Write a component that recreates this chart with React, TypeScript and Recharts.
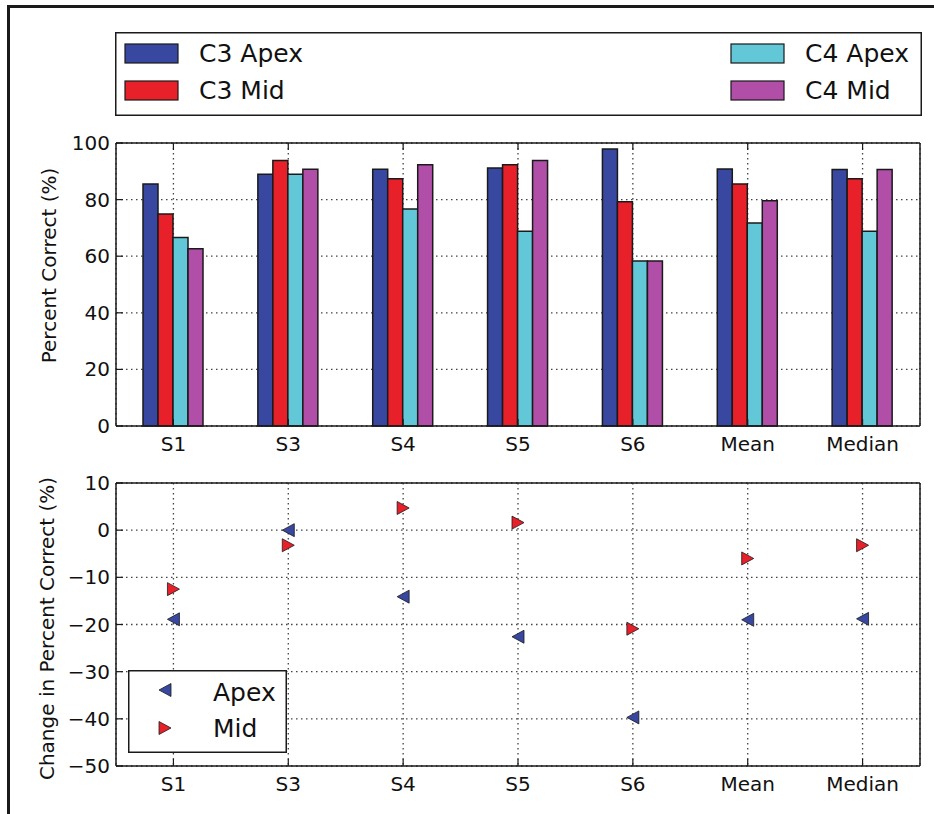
import React from 'react';
import {
  BarChart,
  Bar,
  ScatterChart,
  Scatter,
  XAxis,
  YAxis,
  CartesianGrid,
  Legend,
} from 'recharts';

// subjects plus the summary columns
const categories = ['S1', 'S3', 'S4', 'S5', 'S6', 'Mean', 'Median'];

// percent correct per condition
const c3Apex = [85.5, 89.0, 90.7, 91.2, 97.9, 90.8, 90.6];
const c3Mid = [74.9, 93.8, 87.4, 92.3, 79.2, 85.5, 87.4];
const c4Apex = [66.6, 89.0, 76.7, 68.8, 58.3, 71.7, 68.8];
const c4Mid = [62.6, 90.7, 92.3, 93.8, 58.3, 79.6, 90.6];

// change from C3 to C4
const apexChange = [-18.9, 0.0, -14.1, -22.6, -39.7, -19.0, -18.8];
const midChange = [-12.5, -3.2, 4.7, 1.6, -20.9, -6.0, -3.2];

const percentTicks = [0, 20, 40, 60, 80, 100];
const changeTicks = [-50, -40, -30, -20, -10, 0, 10];

const FONT = '"DejaVu Sans", sans-serif';
const TICK_LEN = 7;
const INK = '#1a1a1a';
const GRID_DASH = '1.5 3.5';

const BLUE = '#3848a0';
const RED = '#e8202a';
const CYAN = '#62c8d8';
const MAGENTA = '#b04ea8';

const barSeries = [
  { key: 'c3Apex', name: 'C3 Apex', color: BLUE },
  { key: 'c3Mid', name: 'C3 Mid', color: RED },
  { key: 'c4Apex', name: 'C4 Apex', color: CYAN },
  { key: 'c4Mid', name: 'C4 Mid', color: MAGENTA },
];

const barData = categories.map((name, i) => ({
  name,
  c3Apex: c3Apex[i],
  c3Mid: c3Mid[i],
  c4Apex: c4Apex[i],
  c4Mid: c4Mid[i],
}));

const apexPoints = categories.map((_, i) => ({ idx: i, value: apexChange[i] }));
const midPoints = categories.map((_, i) => ({ idx: i, value: midChange[i] }));
const catIndexTicks = categories.map((_, i) => i);

const fmt = (v: number) => (v < 0 ? '\u2212' + Math.abs(v) : String(v));

const trianglePath = (cx: number, cy: number, dir: 'left' | 'right') => {
  const w = 6;
  const h = 6.5;
  return dir === 'left'
    ? `M${cx - w},${cy} L${cx + w},${cy - h} L${cx + w},${cy + h} Z`
    : `M${cx + w},${cy} L${cx - w},${cy - h} L${cx - w},${cy + h} Z`;
};

const CategoryTick = ({ x, y, payload }: any) => {
  const label = typeof payload.value === 'number' ? categories[payload.value] : payload.value;
  return (
    <g>
      <line x1={x} y1={y} x2={x} y2={y - TICK_LEN} stroke={INK} strokeWidth={1.2} />
      <text x={x} y={y + 25} textAnchor="middle" fontSize={20} fontFamily={FONT} fill="#111">
        {label}
      </text>
    </g>
  );
};

const TopTick = ({ x, y }: any) => (
  <line x1={x} y1={y} x2={x} y2={y + TICK_LEN} stroke={INK} strokeWidth={1.2} />
);

const ValueTick = ({ x, y, payload }: any) => (
  <g>
    <line x1={x} y1={y} x2={x + TICK_LEN} y2={y} stroke={INK} strokeWidth={1.2} />
    <text x={x - 6} y={y} dy={7} textAnchor="end" fontSize={20} fontFamily={FONT} fill="#111">
      {fmt(payload.value)}
    </text>
  </g>
);

const RightTick = ({ x, y }: any) => (
  <line x1={x} y1={y} x2={x - TICK_LEN} y2={y} stroke={INK} strokeWidth={1.2} />
);

const axisTitle = (text: string, cx: number, shift: number) => (props: any) => {
  const vb = props.viewBox || { y: 0, height: 0 };
  const cy = vb.y + vb.height / 2 + shift;
  return (
    <text
      x={cx}
      y={cy}
      transform={`rotate(-90, ${cx}, ${cy})`}
      textAnchor="middle"
      dominantBaseline="central"
      fontSize={20}
      fontFamily={FONT}
      fill="#111"
    >
      {text}
    </text>
  );
};

const BarLegend = () => {
  const rows = [
    { s: barSeries[0], x: 10, y: 12 },
    { s: barSeries[1], x: 10, y: 49 },
    { s: barSeries[2], x: 616, y: 12 },
    { s: barSeries[3], x: 616, y: 49 },
  ];
  return (
    <svg width={807} height={84} style={{ display: 'block' }}>
      <rect x={0.75} y={0.75} width={805.5} height={82.5} fill="#fff" stroke={INK} strokeWidth={1.5} />
      {rows.map(({ s, x, y }) => (
        <g key={s.key}>
          <rect x={x} y={y} width={53} height={19} fill={s.color} stroke={INK} strokeWidth={1.2} />
          <text x={x + 74} y={y + 18} fontSize={25} fontFamily={FONT} fill="#111">
            {s.name}
          </text>
        </g>
      ))}
    </svg>
  );
};

const ChangeLegend = () => (
  <svg width={159} height={83} style={{ display: 'block' }}>
    <rect x={0.75} y={0.75} width={157.5} height={81.5} fill="#fff" stroke={INK} strokeWidth={1.5} />
    <path d={trianglePath(37, 20, 'left')} fill={BLUE} stroke={INK} strokeWidth={0.8} />
    <text x={85} y={31} fontSize={25} fontFamily={FONT} fill="#111">Apex</text>
    <path d={trianglePath(37, 58, 'right')} fill={RED} stroke={INK} strokeWidth={0.8} />
    <text x={85} y={67} fontSize={25} fontFamily={FONT} fill="#111">Mid</text>
  </svg>
);

const marker = (dir: 'left' | 'right', color: string) => (props: any) => (
  <path d={trianglePath(props.cx, props.cy, dir)} fill={color} stroke={INK} strokeWidth={0.8} />
);

export default function App() {
  return (
    <div
      style={{
        position: 'absolute',
        left: 0,
        top: 0,
        width: 934,
        height: 814,
        overflow: 'hidden',
        background: '#fff',
        fontFamily: FONT,
      }}
    >
      <div
        style={{
          position: 'absolute',
          left: 7,
          top: 5,
          width: 927,
          height: 809,
          borderTop: `3px solid ${INK}`,
          borderLeft: `3px solid ${INK}`,
          boxSizing: 'border-box',
        }}
      />

      <div style={{ position: 'absolute', left: 0, top: 0 }}>
        <BarChart
          width={934}
          height={470}
          data={barData}
          margin={{ top: 142, right: 13, bottom: 14, left: 56 }}
          barGap={0}
          barSize={15}
        >
          {barSeries.map((s) => (
            <Bar
              key={s.key}
              dataKey={s.key}
              name={s.name}
              fill={s.color}
              stroke={INK}
              strokeWidth={1.5}
              isAnimationActive={false}
            />
          ))}
          <CartesianGrid strokeDasharray={GRID_DASH} stroke="#444" strokeWidth={1.3} />
          <XAxis
            dataKey="name"
            height={30}
            interval={0}
            tickSize={0}
            tickMargin={0}
            tickLine={false}
            axisLine={{ stroke: INK, strokeWidth: 1.5 }}
            tick={<CategoryTick />}
          />
          <XAxis
            xAxisId="top"
            orientation="top"
            dataKey="name"
            height={1}
            interval={0}
            tickSize={0}
            tickMargin={0}
            tickLine={false}
            axisLine={{ stroke: INK, strokeWidth: 1.5 }}
            tick={<TopTick />}
          />
          <YAxis
            width={60}
            domain={[0, 100]}
            ticks={percentTicks}
            tickSize={0}
            tickMargin={0}
            tickLine={false}
            axisLine={{ stroke: INK, strokeWidth: 1.5 }}
            tick={<ValueTick />}
            label={axisTitle('Percent Correct (%)', 49, -19)}
          />
          <YAxis
            yAxisId="right"
            orientation="right"
            width={1}
            domain={[0, 100]}
            ticks={percentTicks}
            tickSize={0}
            tickMargin={0}
            tickLine={false}
            axisLine={{ stroke: INK, strokeWidth: 1.5 }}
            tick={<RightTick />}
          />
          <Legend
            layout="horizontal"
            verticalAlign="middle"
            align="center"
            content={<BarLegend />}
            wrapperStyle={{ left: 115, top: 32, width: 807, height: 84 }}
          />
        </BarChart>
      </div>

      <div style={{ position: 'absolute', left: 0, top: 460 }}>
        <ScatterChart width={934} height={354} margin={{ top: 22, right: 13, bottom: 18, left: 56 }}>
          <CartesianGrid strokeDasharray={GRID_DASH} stroke="#444" strokeWidth={1.3} />
          <XAxis
            type="number"
            dataKey="idx"
            domain={[-0.5, 6.5]}
            ticks={catIndexTicks}
            height={30}
            interval={0}
            tickSize={0}
            tickMargin={0}
            tickLine={false}
            axisLine={{ stroke: INK, strokeWidth: 1.5 }}
            tick={<CategoryTick />}
          />
          <XAxis
            xAxisId="top"
            orientation="top"
            type="number"
            dataKey="idx"
            domain={[-0.5, 6.5]}
            ticks={catIndexTicks}
            height={1}
            interval={0}
            tickSize={0}
            tickMargin={0}
            tickLine={false}
            axisLine={{ stroke: INK, strokeWidth: 1.5 }}
            tick={<TopTick />}
          />
          <YAxis
            type="number"
            dataKey="value"
            width={60}
            domain={[-50, 10]}
            ticks={changeTicks}
            interval={0}
            tickSize={0}
            tickMargin={0}
            tickLine={false}
            axisLine={{ stroke: INK, strokeWidth: 1.5 }}
            tick={<ValueTick />}
            label={axisTitle('Change in Percent Correct (%)', 47, 4)}
          />
          <YAxis
            yAxisId="right"
            orientation="right"
            type="number"
            dataKey="value"
            width={1}
            domain={[-50, 10]}
            ticks={changeTicks}
            interval={0}
            tickSize={0}
            tickMargin={0}
            tickLine={false}
            axisLine={{ stroke: INK, strokeWidth: 1.5 }}
            tick={<RightTick />}
          />
          <Scatter name="Apex" data={apexPoints} shape={marker('left', BLUE)} isAnimationActive={false} />
          <Scatter name="Mid" data={midPoints} shape={marker('right', RED)} isAnimationActive={false} />
          <Legend
            layout="horizontal"
            verticalAlign="middle"
            align="center"
            content={<ChangeLegend />}
            wrapperStyle={{ left: 128, top: 210, width: 159, height: 83 }}
          />
        </ScatterChart>
      </div>
    </div>
  );
}
